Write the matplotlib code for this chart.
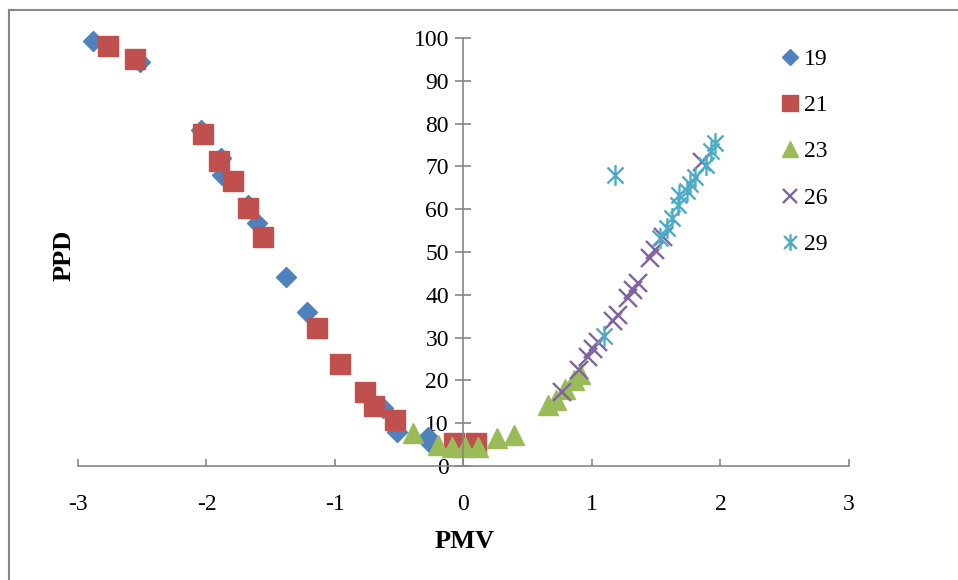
import matplotlib.pyplot as plt
import numpy as np
from matplotlib.path import Path
from matplotlib.lines import Line2D

plt.rcParams['font.family'] = ['Liberation Serif', 'DejaVu Serif']

# PMV / PPD points per series
pmv_19 = [-2.88, -2.52, -2.04, -1.89, -1.88, -1.68, -1.61, -1.38, -1.22, -0.63, -0.52, -0.28, -0.26]
ppd_19 = [99.2, 94.5, 78.5, 72.0, 68.0, 61.0, 56.7, 44.2, 36.0, 13.6, 8.0, 6.8, 5.4]

pmv_21 = [-2.77, -2.56, -2.03, -1.90, -1.79, -1.68, -1.56, -1.14, -0.96, -0.77, -0.70, -0.53, -0.07, 0.10]
ppd_21 = [98.1, 95.0, 77.6, 71.3, 66.6, 60.2, 53.6, 32.2, 23.8, 17.2, 13.9, 10.8, 5.4, 5.4]

pmv_23 = [-0.39, -0.20, -0.09, 0.01, 0.11, 0.26, 0.39, 0.66, 0.72, 0.79, 0.86, 0.91]
ppd_23 = [7.8, 4.9, 4.5, 4.5, 4.5, 6.5, 7.3, 14.2, 15.5, 18.0, 20.0, 21.5]

pmv_26 = [0.77, 0.90, 0.97, 1.01, 1.05, 1.16, 1.20, 1.28, 1.32, 1.36, 1.45, 1.49, 1.55, 1.86]
ppd_26 = [17.4, 22.5, 25.5, 27.3, 29.0, 33.9, 35.3, 39.3, 41.0, 42.8, 48.5, 50.4, 53.5, 71.0]

pmv_29 = [1.18, 1.09, 1.53, 1.58, 1.62, 1.67, 1.68, 1.74, 1.76, 1.80, 1.89, 1.93, 1.96]
ppd_29 = [68.0, 30.4, 53.2, 55.5, 58.0, 61.0, 63.3, 64.2, 66.0, 67.5, 70.4, 73.5, 75.5]

labels = ['19', '21', '23', '26', '29']

# excel style star: x plus vertical bar
star = Path([(-1, -1), (1, 1), (-1, 1), (1, -1), (0, -1.3), (0, 1.3)],
            [Path.MOVETO, Path.LINETO, Path.MOVETO, Path.LINETO, Path.MOVETO, Path.LINETO])

fig = plt.figure(figsize=(9.58, 5.8), dpi=100)
ax = fig.add_axes([0.0814, 0.1966, 0.8048, 0.7379])

ax.plot(pmv_19, ppd_19, 'D', color='#4F81BD', ms=10, mec='#4F81BD', ls='none', label=labels[0], clip_on=False)
ax.plot(pmv_21, ppd_21, 's', color='#C0504D', ms=15, mec='#C0504D', ls='none', label=labels[1], clip_on=False)
ax.plot(pmv_23, ppd_23, '^', color='#9BBB59', ms=15, mec='#9BBB59', ls='none', label=labels[2], clip_on=False)
ax.plot(pmv_26, ppd_26, 'x', color='#8064A2', ms=13, mew=1.7, ls='none', label=labels[3], clip_on=False)
ax.plot(pmv_29, ppd_29, marker=star, color='#4BACC6', ms=15, mew=1.7, ls='none', label=labels[4], clip_on=False)

ax.set_xlim(-3, 3)
ax.set_ylim(0, 100)
ax.set_xticks(np.arange(-3, 4, 1))
ax.set_yticks(np.arange(0, 101, 10))

ax.spines['left'].set_position(('data', 0))
ax.spines['bottom'].set_position(('data', 0))
ax.spines['top'].set_visible(False)
ax.spines['right'].set_visible(False)
for s in ['left', 'bottom']:
    ax.spines[s].set_color('#868686')
    ax.spines[s].set_linewidth(1.2)

ax.tick_params(axis='y', direction='inout', length=11, width=1.2, color='#868686', pad=5, labelsize=17)
ax.tick_params(axis='x', direction='in', length=5, width=1.2, color='#868686', pad=20, labelsize=17)
ax.set_xticklabels(['-3', '-2', '-1', '0', '1', '2', '3'])

fig.text(0.485, 0.066, 'PMV', ha='center', va='center', fontsize=19, fontweight='bold')
fig.text(0.067, 0.56, 'PPD', ha='center', va='center', fontsize=19, fontweight='bold', rotation=90)

ax.legend(loc='upper left', bbox_to_anchor=(0.805, 0.933), bbox_transform=fig.transFigure,
          frameon=False, fontsize=17, markerscale=0.8, handlelength=0.8, handletextpad=0.2,
          labelspacing=1.05, borderaxespad=0)

# chart area border (left and top edges)
fig.add_artist(Line2D([9 / 958, 9 / 958], [0, 1 - 10 / 580], color='#878787', lw=1.5))
fig.add_artist(Line2D([9 / 958, 1], [1 - 10 / 580, 1 - 10 / 580], color='#878787', lw=1.5))

plt.savefig('out.png', dpi=100)
